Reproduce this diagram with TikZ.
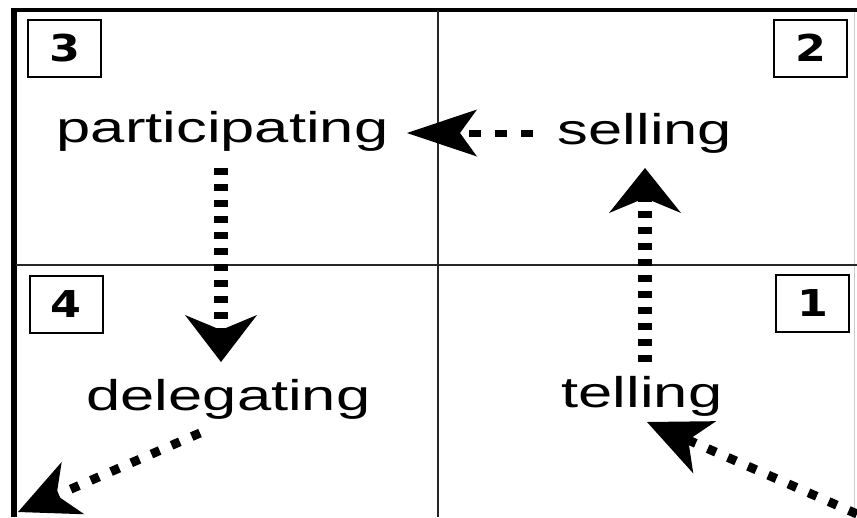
\documentclass[tikz,border=0pt]{standalone}
\usepackage{fontspec}
\setmainfont{Liberation Sans}
\newfontfamily\numfont{DejaVu Sans}
\usetikzlibrary{arrows.meta}
\begin{document}
\begin{tikzpicture}[x=1pt,y=-1pt,
  lbl/.style={anchor=base, inner sep=0pt, font=\fontsize{43}{50}\selectfont},
  numbox/.style={draw, line width=2pt, inner sep=0pt, minimum width=73pt, minimum height=57pt,
    font=\numfont\bfseries\fontsize{37}{40}\selectfont},
  dotline/.style={draw=black, line cap=butt}
]
\clip (0,0) rectangle (857,517);
\fill[white] (0,0) rectangle (857,517);
% frame and dividers
\draw[line width=6pt] (13.5,8) -- (13.5,517);
\draw[line width=4pt] (10.5,10) -- (857,10);
\draw[gray!40, line width=1pt] (854,12) -- (854,517);
\draw[black!85, line width=1.2pt] (438,10) -- (438,517);
\draw[black!85, line width=1.5pt] (16,265) -- (857,265);
% number boxes
\node[numbox] (n3) at (64.5,48.5) {\scalebox{1.2}[1]{3}};
\node[numbox] (n2) at (810.5,48) {\scalebox{1.2}[1]{2}};
\node[numbox] (n4) at (66,304) {\scalebox{1.2}[1]{4}};
\node[numbox] (n1) at (812.5,303) {\scalebox{1.2}[1]{1}};
% labels
\node[lbl] (part) at (222.5,142) {\scalebox{1.43}[1]{participating}};
\node[lbl] (sell) at (645,144) {\scalebox{1.43}[1]{selling}};
\node[lbl] (dele) at (228.5,410) {\scalebox{1.43}[1]{delegating}};
\node[lbl] (tell) at (642,407) {\scalebox{1.43}[1]{telling}};
% arrow end points
\coordinate (a1s) at (533,133);
\coordinate (a1e) at (407,133);
\coordinate (a2s) at (221,168);
\coordinate (a2e) at (221,362);
\coordinate (a3s) at (645,362);
\coordinate (a3e) at (645,168);
\coordinate (a4s) at (200,433);
\coordinate (a4e) at (18,512);
\coordinate (a5s) at (857,514);
\coordinate (a5e) at (647,422);
% arrows
\draw[dotline, line width=7pt, dash pattern=on 12pt off 14pt,
  -{Stealth[length=70pt, width=47pt, inset=17pt, line width=0pt]}] (a1s) -- (a1e);
\draw[dotline, line width=14pt, dash pattern=on 7pt off 9pt,
  -{Stealth[length=47pt, width=72pt, inset=15pt, line width=0pt]}] (a2s) -- (a2e);
\draw[dotline, line width=14pt, dash pattern=on 7pt off 9pt,
  -{Stealth[length=45pt, width=72pt, inset=15pt, line width=0pt]}] (a3s) -- (a3e);
\draw[dotline, line width=9pt, dash pattern=on 9pt off 13pt,
  -{Stealth[length=60pt, width=57pt, inset=18pt, line width=0pt]}] (a4s) -- (a4e);
\draw[dotline, line width=9pt, dash pattern=on 9pt off 13pt,
  -{Stealth[length=63pt, width=57pt, inset=18pt, line width=0pt]}] (a5s) -- (a5e);
\end{tikzpicture}
\end{document}
